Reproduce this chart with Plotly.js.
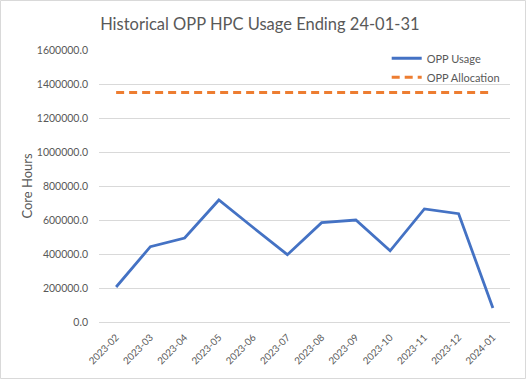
<!DOCTYPE html>
<html>
<head>
<meta charset="utf-8">
<script src="https://cdn.plot.ly/plotly-3.0.1.min.js"></script>
<style>html,body{margin:0;padding:0;background:#fff;}#chart{width:526px;height:379px;}</style>
</head>
<body>
<div id="chart"></div>
<script>
const months = ["2023-02","2023-03","2023-04","2023-05","2023-06","2023-07","2023-08","2023-09","2023-10","2023-11","2023-12","2024-01"];
const usage = [206000, 443000, 494000, 718000, 556000, 396000, 584000, 600000, 419000, 665000, 637000, 82000];
const allocation = [1350000, 1350000, 1350000, 1350000, 1350000, 1350000, 1350000, 1350000, 1350000, 1350000, 1350000, 1350000];
const yTicks = [0, 200000, 400000, 600000, 800000, 1000000, 1200000, 1400000, 1600000];

const font = "Lato, 'Open Sans', sans-serif";
const grey = "#595959";

const traces = [
  {x: months, y: usage, type: "scatter", mode: "lines", name: "OPP Usage",
   line: {color: "#4472C4", width: 2.8}},
  {x: months, y: allocation, type: "scatter", mode: "lines", name: "OPP Allocation",
   line: {color: "#ED7D31", width: 2.8, dash: "8px,5px"}}
];

const L = 99, R = 16, T = 50, B = 57, W = 526, H = 379;
const pw = W - L - R, ph = H - T - B;

const layout = {
  width: W, height: H,
  margin: {l: L, r: R, t: T, b: B, pad: 0},
  paper_bgcolor: "#fff", plot_bgcolor: "#fff",
  font: {family: font, color: grey, size: 10},
  title: {text: "Historical OPP HPC Usage Ending 24-01-31", font: {family: font, size: 16.5, color: grey},
          x: 0.494, xanchor: "center", y: 0.935, yanchor: "middle"},
  xaxis: {type: "category", range: [-0.5, months.length - 0.5], showgrid: false, showline: true,
          linecolor: "#D9D9D9", linewidth: 1, ticklabelstandoff: 5,
          tickangle: -45, ticks: "", tickfont: {size: 9.8, color: grey}, automargin: false, fixedrange: true},
  yaxis: {range: [0, 1600000], tickvals: yTicks, tickformat: ".1f", showgrid: true, gridcolor: "#D9D9D9",
          gridwidth: 1, zeroline: false, showline: false, ticks: "", ticklabelstandoff: 10,
          tickfont: {size: 10.5, color: grey}, automargin: false, fixedrange: true,
          title: {text: "Core Hours", font: {size: 13, color: grey}, standoff: 1}},
  legend: {x: 0.70, y: 1.023, xanchor: "left", yanchor: "top", bgcolor: "rgba(0,0,0,0)",
           font: {size: 11, color: grey}, tracegroupgap: 0},
  showlegend: true,
  shapes: [{type: "rect", xref: "paper", yref: "paper",
            x0: -(L - 0.5) / pw, x1: 1 + (R - 0.5) / pw, y0: -(B - 0.5) / ph, y1: 1 + (T - 0.5) / ph,
            line: {color: "#D9D9D9", width: 1}, layer: "below"}]
};

Plotly.newPlot("chart", traces, layout, {displayModeBar: false, staticPlot: true});
</script>
</body>
</html>
